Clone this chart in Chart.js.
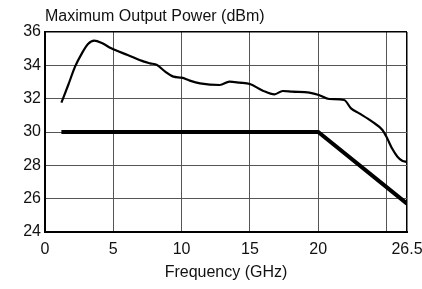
<!DOCTYPE html>
<html>
<head>
<meta charset="utf-8">
<script src="https://cdn.jsdelivr.net/npm/chart.js@4/dist/chart.umd.min.js"></script>
<style>
  html, body { margin: 0; padding: 0; background: #fff; }
  #wrap { width: 422px; height: 289px; position: relative; }
</style>
</head>
<body>
<div id="wrap"><canvas id="c"></canvas></div>
<script>
const chartTitle = 'Maximum Output Power (dBm)';
const xAxisTitle = 'Frequency (GHz)';

// Typical maximum output power curve
const typicalFreq  = [1.2, 1.7, 2.2, 2.7, 3.15, 3.6, 4.2, 4.85, 6.05, 7.25, 7.7, 8.2, 8.8, 9.4, 10.0, 10.6, 11.35, 12.8, 13.5, 14.25, 15.0, 15.95, 16.8, 17.4, 18.1, 19.35, 20.05, 20.8, 21.9, 22.4, 23.0, 23.95, 24.7, 25.05, 25.4, 25.8, 26.15, 26.5];
const typicalPower = [31.76, 32.82, 33.92, 34.72, 35.28, 35.48, 35.32, 35.02, 34.62, 34.22, 34.12, 34.02, 33.62, 33.32, 33.26, 33.08, 32.92, 32.82, 33.02, 32.96, 32.88, 32.48, 32.26, 32.46, 32.42, 32.36, 32.22, 31.98, 31.92, 31.42, 31.12, 30.62, 30.12, 29.62, 29.02, 28.52, 28.28, 28.2];

// Specified minimum output power
const specFreq  = [1.2, 20, 26.5];
const specPower = [30, 30, 25.7];

const xTickValues = [0, 5, 10, 15, 20, 25, 26.5];
const xTickLabels = ['0', '5', '10', '15', '20', '', '26.5'];
const yMin = 24, yMax = 36, yStep = 2;

const FONT = 'Liberation Sans, Arial, Helvetica, sans-serif';

const titlePlugin = {
  id: 'topTitle',
  afterDraw(chart) {
    const ctx = chart.ctx;
    ctx.save();
    ctx.font = '16px ' + FONT;
    ctx.fillStyle = '#111';
    ctx.textAlign = 'left';
    ctx.textBaseline = 'alphabetic';
    ctx.fillText(chartTitle, chart.chartArea.left, 20.5);
    ctx.restore();
  }
};

const toPts = (xs, ys) => xs.map((x, i) => ({ x: x, y: ys[i] }));

new Chart(document.getElementById('c'), {
  type: 'line',
  data: {
    datasets: [
      {
        label: 'Typical',
        data: toPts(typicalFreq, typicalPower),
        borderColor: '#000',
        borderWidth: 2.2,
        pointRadius: 0,
        cubicInterpolationMode: 'monotone',
        fill: false
      },
      {
        label: 'Specified',
        data: toPts(specFreq, specPower),
        borderColor: '#000',
        borderWidth: 4,
        pointRadius: 0,
        tension: 0,
        fill: false
      }
    ]
  },
  options: {
    responsive: true,
    maintainAspectRatio: false,
    devicePixelRatio: 1,
    animation: false,
    layout: { padding: { top: 32, right: 15, left: 0, bottom: 0 } },
    plugins: {
      legend: { display: false },
      tooltip: { enabled: false },
      title: { display: false }
    },
    scales: {
      x: {
        type: 'linear',
        min: 0,
        max: 26.5,
        afterBuildTicks(axis) {
          axis.ticks = xTickValues.map(v => ({ value: v }));
        },
        afterFit(axis) {
          axis.height = 57;
          axis.paddingLeft = 0;
          axis.paddingRight = 0;
        },
        ticks: {
          autoSkip: false,
          maxRotation: 0,
          padding: 8,
          color: '#111',
          font: { family: FONT, size: 16 },
          callback(value) {
            const i = xTickValues.indexOf(value);
            return i >= 0 ? xTickLabels[i] : '';
          }
        },
        grid: {
          drawTicks: false,
          color: ctx => (ctx.tick && ctx.tick.value === 26.5) ? '#000' : '#555',
          lineWidth: ctx => (ctx.tick && ctx.tick.value === 26.5) ? 1.5 : 1
        },
        border: { display: true, color: '#000', width: 2 },
        title: {
          display: true,
          text: xAxisTitle,
          color: '#111',
          font: { family: FONT, size: 16 },
          padding: { top: 0, bottom: 7 }
        }
      },
      y: {
        min: yMin,
        max: yMax,
        afterFit(axis) {
          axis.width = 45;
        },
        ticks: {
          stepSize: yStep,
          padding: 4,
          color: '#111',
          font: { family: FONT, size: 16 }
        },
        grid: {
          drawTicks: false,
          color: ctx => (ctx.tick && ctx.tick.value === yMax) ? '#000' : '#555',
          lineWidth: ctx => (ctx.tick && ctx.tick.value === yMax) ? 1.5 : 1
        },
        border: { display: true, color: '#000', width: 2 }
      }
    }
  },
  plugins: [titlePlugin]
});
</script>
</body>
</html>
